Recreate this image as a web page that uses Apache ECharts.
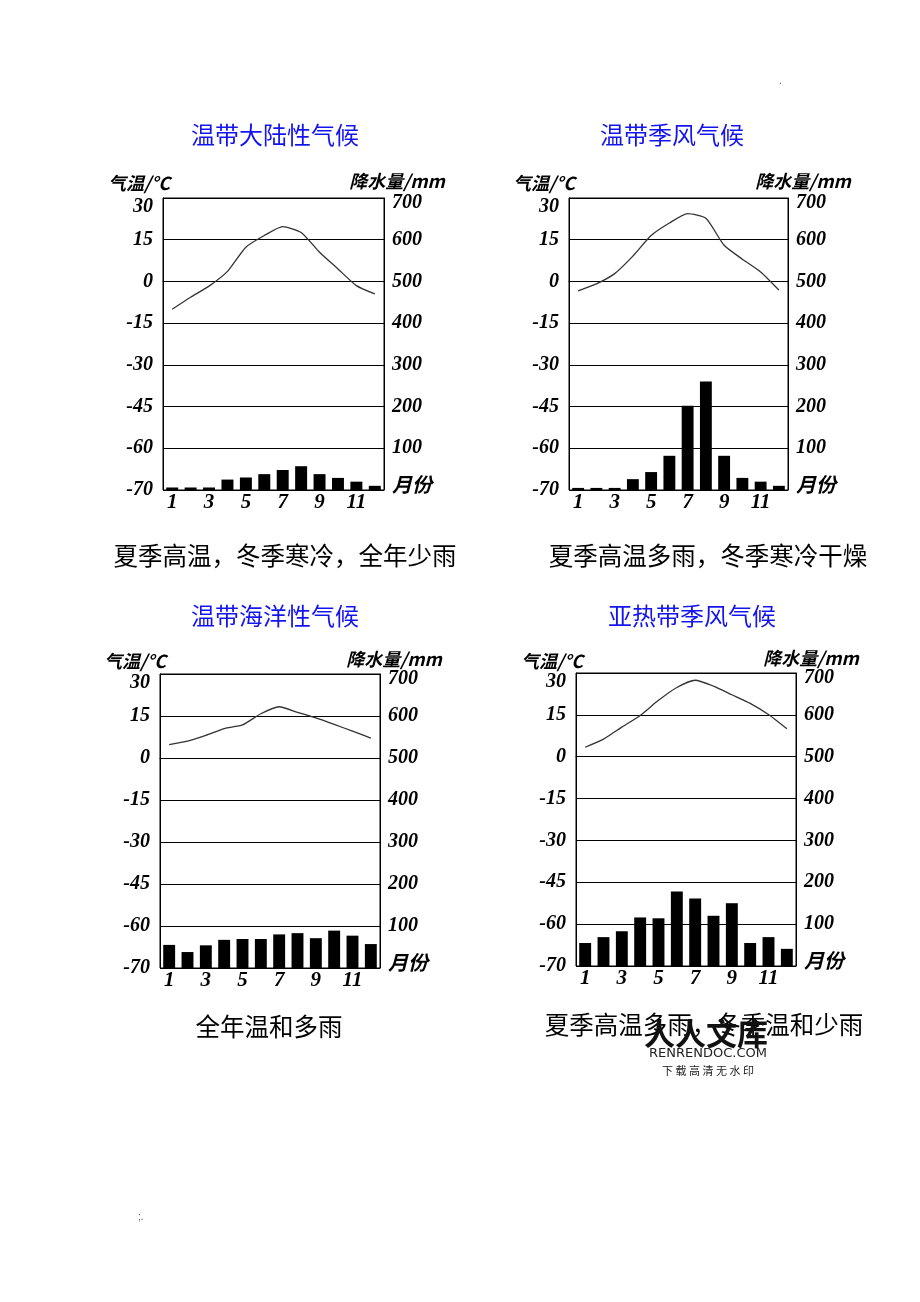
<!DOCTYPE html>
<html><head><meta charset="utf-8">
<script src="https://cdn.jsdelivr.net/npm/echarts@6/dist/echarts.min.js"></script>
<style>html,body{margin:0;padding:0;background:#fff}#c{width:920px;height:1302px}</style>
</head><body><div id="c"></div>
<script>
const months = ['1','2','3','4','5','6','7','8','9','10','11','12'];
const tempTicks = [-75,-60,-45,-30,-15,0,15,30];
const precipTicks = [0,100,200,300,400,500,600,700];

const titles = ['温带大陆性气候','温带季风气候','温带海洋性气候','亚热带季风气候'];
const captions = ['夏季高温，冬季寒冷，全年少雨','夏季高温多雨，冬季寒冷干燥','全年温和多雨','夏季高温多雨，冬季温和少雨'];

const tempContinental = [-10,-5.7,-1.7,3.6,12.3,16.5,19.7,17.6,10.5,4.5,-1.5,-4.5];
const precipContinental = [6,6,6,25,30,38,48,57,38,29,20,10];

const tempMonsoon = [-3.4,-0.9,2.8,9.1,16.5,21,24.4,22.7,13,8,3.4,-3.1];
const precipMonsoon = [5,5,5,26,43,82,202,260,82,29,20,10];

const tempMaritime = [4.8,6,8.1,10.5,11.8,15.8,18.3,16.3,14.3,12,9.6,7.1];
const precipMaritime = [55,38,54,67,69,69,80,83,71,89,77,57];

const tempSubtropical = [3.4,6.3,10.6,14.8,20.2,24.8,27.4,25.3,22.2,19.1,15.1,10];
const precipSubtropical = [55,69,83,116,114,178,161,120,150,55,69,41];

const temps = [tempContinental,tempMonsoon,tempMaritime,tempSubtropical];
const precs = [precipContinental,precipMonsoon,precipMaritime,precipSubtropical];

// layout
const grids = [
  {left:163, top:198, width:221, height:292},
  {left:569, top:198, width:219, height:292},
  {left:160, top:674, width:220, height:294},
  {left:576, top:673, width:220, height:293}
];
const titlePos = [[275,135],[672,135],[275,616],[692,616]];
const tNamePos = [[139,183],[544,183],[135,661],[552,661]];
const pNamePos = [[397,181],[803,181],[394,659],[811,658]];
const capPos = [[285,556],[708,556],[269,1027],[704,1025]];

const cjkBI = 'italic bold 18px "Noto Sans CJK SC",sans-serif';
const serifFam = '"Liberation Serif","DejaVu Serif",serif';

const option = {
  animation:false,
  backgroundColor:'#fff',
  grid: grids.map(g=>Object.assign({show:true,borderColor:'#000',borderWidth:1,containLabel:false},g)),
  xAxis: grids.map((g,i)=>({
    type:'category', gridIndex:i, data:months, boundaryGap:true,
    axisLine:{show:true,lineStyle:{color:'#000',width:1}}, axisTick:{show:false},
    axisLabel:{interval:1, margin:2, color:'#000', fontFamily:serifFam, fontStyle:'italic', fontWeight:'bold', fontSize:21},
    splitLine:{show:false}
  })),
  yAxis: [],
  series: [],
  graphic: []
};
grids.forEach((g,i)=>{
  option.yAxis.push({
    type:'value', gridIndex:i, min:tempTicks[0], max:tempTicks[tempTicks.length-1], interval:15, position:'left',
    axisLine:{show:true,lineStyle:{color:'#000'}}, axisTick:{show:false},
    axisLabel:{margin:10, color:'#000', fontFamily:serifFam, fontStyle:'italic', fontWeight:'bold', fontSize:20,
      formatter:v=> v===-75 ? '-70' : (v===30 ? '{t|30}' : String(v)),
      rich:{t:{fontFamily:serifFam, fontStyle:'italic', fontWeight:'bold', fontSize:20, color:'#000', padding:[18,0,0,0]}}},
    splitLine:{show:true,lineStyle:{color:'#000',width:1.2}}
  });
  option.yAxis.push({
    type:'value', gridIndex:i, min:precipTicks[0], max:precipTicks[precipTicks.length-1], interval:100, position:'right',
    axisLine:{show:true,lineStyle:{color:'#000'}}, axisTick:{show:false},
    axisLabel:{margin:8, color:'#000', fontFamily:serifFam, fontStyle:'italic', fontWeight:'bold', fontSize:20,
      formatter:v=> v===0 ? '{m|月份}' : (v===700 ? '{t|700}' : String(v)),
      rich:{
        m:{fontFamily:'"Noto Sans CJK SC",sans-serif', fontStyle:'italic', fontWeight:'bold', fontSize:20, color:'#000', padding:[0,0,12,0]},
        t:{fontFamily:serifFam, fontStyle:'italic', fontWeight:'bold', fontSize:20, color:'#000', padding:[10,0,0,0]}
      }},
    splitLine:{show:false}
  });
  option.series.push({
    type:'bar', xAxisIndex:i, yAxisIndex:2*i+1, data:precs[i], barWidth:'65%',
    itemStyle:{color:'#000'}, z:2
  });
  option.series.push({
    type:'line', xAxisIndex:i, yAxisIndex:2*i, data:temps[i], smooth:0.2, symbol:'none',
    lineStyle:{color:'#333',width:1.3}, z:3
  });
  option.graphic.push({type:'text', x:titlePos[i][0], y:titlePos[i][1],
    style:{text:titles[i], textAlign:'center', textVerticalAlign:'middle', font:'24px "Noto Sans CJK SC",sans-serif', fill:'#1414f0'}});
  option.graphic.push({type:'text', x:tNamePos[i][0], y:tNamePos[i][1],
    style:{text:'气温/°C', textAlign:'center', textVerticalAlign:'middle', font:cjkBI, fill:'#000'}});
  option.graphic.push({type:'text', x:pNamePos[i][0], y:pNamePos[i][1],
    style:{text:'降水量/mm', textAlign:'center', textVerticalAlign:'middle', font:cjkBI, fill:'#000'}});
  option.graphic.push({type:'text', x:capPos[i][0], y:capPos[i][1],
    style:{text:captions[i], textAlign:'center', textVerticalAlign:'middle', font:'24.5px "Noto Sans CJK SC",sans-serif', fill:'#000'}});
});
// watermark and page marks
option.graphic.push({type:'text', x:706, y:1033, z:100,
  style:{text:'人人文库', textAlign:'center', textVerticalAlign:'middle', font:'bold 31px "Noto Sans CJK SC",sans-serif', fill:'#111'}});
option.graphic.push({type:'text', x:708, y:1054, z:100,
  style:{text:'RENRENDOC.COM', textAlign:'center', textVerticalAlign:'middle', font:'13px "DejaVu Sans",sans-serif', fill:'#222'}});
option.graphic.push({type:'text', x:708, y:1071, z:100,
  style:{text:'下 载 高 清 无 水 印', textAlign:'center', textVerticalAlign:'middle', font:'11px "Noto Sans CJK SC",sans-serif', fill:'#222'}});
option.graphic.push({type:'text', x:779, y:76, style:{text:'.', font:'10px sans-serif', fill:'#555'}});
option.graphic.push({type:'text', x:138, y:1212, style:{text:';.', font:'10px sans-serif', fill:'#555'}});

const chart = echarts.init(document.getElementById('c'), null, {renderer:'canvas'});
chart.setOption(option);
</script>
</body></html>
